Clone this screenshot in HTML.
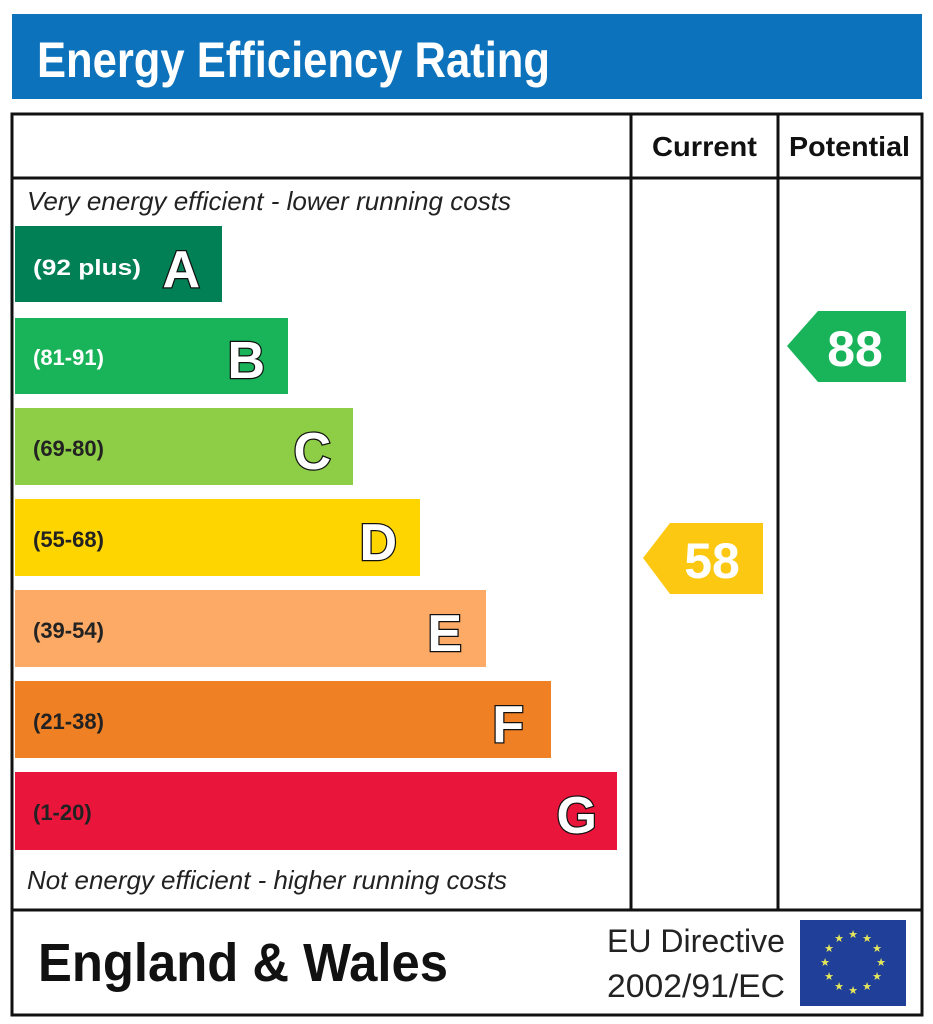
<!DOCTYPE html>
<html><head><meta charset="utf-8"><style>
html,body{margin:0;padding:0;background:#fff;}
svg{display:block;}
text{font-family:"Liberation Sans",Arial,sans-serif;}
.let{font-weight:bold;font-size:52px;fill:#fff;stroke:#111;stroke-width:2.5px;paint-order:stroke;}
.lab{font-weight:bold;font-size:22px;}
</style></head><body>
<svg width="933" height="1024" viewBox="0 0 933 1024" xmlns="http://www.w3.org/2000/svg">
<rect x="0" y="0" width="933" height="1024" fill="#fff"/>
<rect x="12" y="14" width="910" height="85" fill="#0c72bb"/>
<text x="37" y="77" font-size="50" font-weight="bold" fill="#fff" textLength="513" lengthAdjust="spacingAndGlyphs">Energy Efficiency Rating</text>

<rect x="12" y="114" width="910" height="901" fill="none" stroke="#111" stroke-width="3"/>
<line x1="12" y1="178" x2="922" y2="178" stroke="#111" stroke-width="3"/>
<line x1="631" y1="114" x2="631" y2="910" stroke="#111" stroke-width="3"/>
<line x1="778" y1="114" x2="778" y2="910" stroke="#111" stroke-width="3"/>
<line x1="12" y1="910" x2="922" y2="910" stroke="#111" stroke-width="3"/>

<text x="652" y="156" font-size="28" font-weight="bold" fill="#111" textLength="105" lengthAdjust="spacingAndGlyphs">Current</text>
<text x="789" y="156" font-size="28" font-weight="bold" fill="#111" textLength="121" lengthAdjust="spacingAndGlyphs">Potential</text>

<text x="27" y="210" font-size="26" font-style="italic" fill="#222" textLength="484" lengthAdjust="spacingAndGlyphs">Very energy efficient - lower running costs</text>

<rect x="15" y="226" width="207" height="76" fill="#008054"/>
<text x="33" y="275" class="lab" fill="#fff" textLength="108" lengthAdjust="spacingAndGlyphs">(92 plus)</text>
<text x="200" y="287" class="let" text-anchor="end">A</text>

<rect x="15" y="318" width="273" height="76" fill="#19b459"/>
<text x="33" y="365" class="lab" fill="#fff">(81-91)</text>
<text x="265" y="378" class="let" text-anchor="end">B</text>

<rect x="15" y="408" width="338" height="77" fill="#8dce46"/>
<text x="33" y="456" class="lab" fill="#222">(69-80)</text>
<text x="331" y="469" class="let" text-anchor="end">C</text>

<rect x="15" y="499" width="405" height="77" fill="#ffd500"/>
<text x="33" y="547" class="lab" fill="#222">(55-68)</text>
<text x="397" y="560" class="let" text-anchor="end">D</text>

<rect x="15" y="590" width="471" height="77" fill="#fcaa65"/>
<text x="33" y="638" class="lab" fill="#222">(39-54)</text>
<text x="462" y="651" class="let" text-anchor="end">E</text>

<rect x="15" y="681" width="536" height="77" fill="#ef8023"/>
<text x="33" y="729" class="lab" fill="#222">(21-38)</text>
<text x="524" y="742" class="let" text-anchor="end">F</text>

<rect x="15" y="772" width="602" height="78" fill="#e9153b"/>
<text x="33" y="820" class="lab" fill="#222">(1-20)</text>
<text x="597" y="833" class="let" text-anchor="end">G</text>

<text x="27" y="889" font-size="26" font-style="italic" fill="#222" textLength="480" lengthAdjust="spacingAndGlyphs">Not energy efficient - higher running costs</text>

<polygon points="643,558 670,523 763,523 763,594 670,594" fill="#fcc812"/>
<text x="712" y="578" font-size="50" font-weight="bold" fill="#fff" text-anchor="middle">58</text>
<polygon points="787,346 818,311 906,311 906,382 818,382" fill="#19b459"/>
<text x="855" y="366" font-size="50" font-weight="bold" fill="#fff" text-anchor="middle">88</text>

<text x="38" y="981" font-size="54" font-weight="bold" fill="#111" textLength="410" lengthAdjust="spacingAndGlyphs">England &amp; Wales</text>
<text x="607" y="952" font-size="32" fill="#222" textLength="178" lengthAdjust="spacingAndGlyphs">EU Directive</text>
<text x="607" y="997" font-size="32" fill="#222" textLength="178" lengthAdjust="spacingAndGlyphs">2002/91/EC</text>

<rect x="800" y="920" width="106" height="86" fill="#1f3f98"/>
<g fill="#e6e85a" font-size="11" text-anchor="middle">
<text x="853" y="938">★</text><text x="867" y="942">★</text><text x="877" y="952">★</text>
<text x="881" y="966">★</text><text x="877" y="980">★</text><text x="867" y="990">★</text>
<text x="853" y="994">★</text><text x="839" y="990">★</text><text x="829" y="980">★</text>
<text x="825" y="966">★</text><text x="829" y="952">★</text><text x="839" y="942">★</text>
</g>
</svg>
</body></html>
